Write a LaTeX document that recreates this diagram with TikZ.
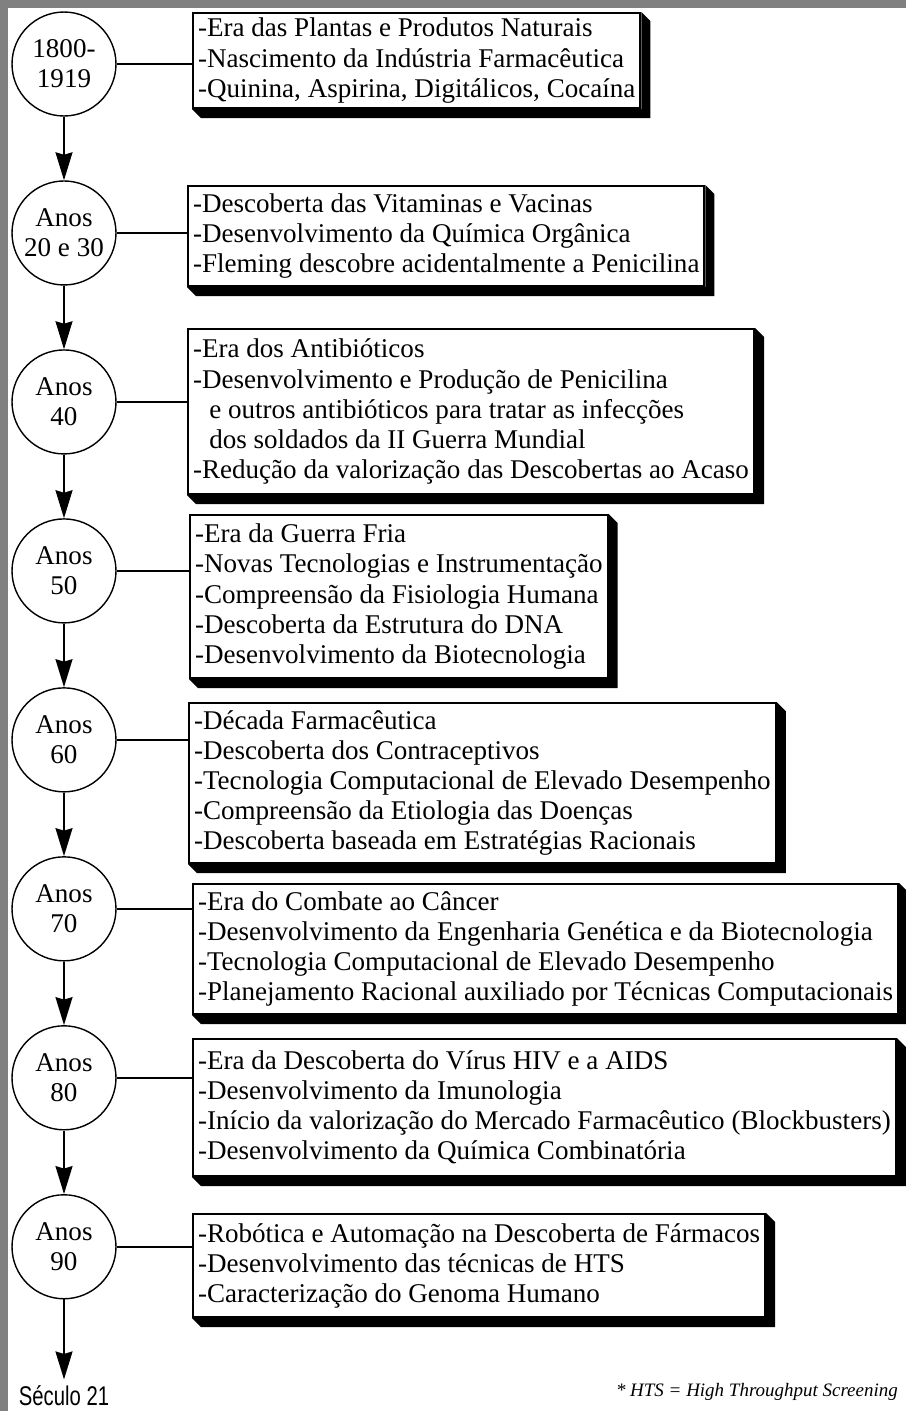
\documentclass[tikz,border=0pt]{standalone}
\usepackage{fontspec}
\setmainfont{Liberation Serif}
\newfontfamily\semserifa{Liberation Sans}
\usetikzlibrary{arrows.meta}
\definecolor{moldura}{RGB}{128,128,128}

\begin{document}
\begin{tikzpicture}[x=0.02cm,y=-0.02cm,>={Stealth[length=0.56cm,width=0.34cm,inset=0.05cm]},node distance=3.38cm,
    decada/.style={circle,draw,line width=0.8pt,minimum size=2.08cm,inner sep=0pt,align=center,font=\fontsize{15.4}{17.1}\selectfont},
    fatos/.style={draw,line width=1.2pt,fill=white,anchor=north west,align=left,inner xsep=0.1cm,inner ysep=0.05cm,font=\fontsize{15.4}{17.1}\selectfont}]
    \useasboundingbox (0,0) rectangle (906,1411);
    \fill[moldura] (0,0) rectangle (906,8);
    \fill[moldura] (0,0) rectangle (8,1411);

    % linha do tempo
    \node[decada] (d1) at (64,64) {1800-\\1919};
    \node[decada] (d2) [below of=d1] {Anos\\20 e 30};
    \node[decada] (d3) [below of=d2] {Anos\\40};
    \node[decada] (d4) [below of=d3] {Anos\\50};
    \node[decada] (d5) [below of=d4] {Anos\\60};
    \node[decada] (d6) [below of=d5] {Anos\\70};
    \node[decada] (d7) [below of=d6] {Anos\\80};
    \node[decada] (d8) [below of=d7] {Anos\\90};
    \node[font=\semserifa\fontsize{15.4}{17}\selectfont] (sec) [below of=d8, node distance=2.98cm] {\scalebox{0.75}[1]{Século 21}};

    % quadros de eventos
    \node[fatos, minimum height=1.9cm] (f1) at (192,12) {-Era das Plantas e Produtos Naturais\\-Nascimento da Indústria Farmacêutica\\-Quinina, Aspirina, Digitálicos, Cocaína};
    \node[fatos, minimum height=2cm] (f2) at (187,185) {-Descoberta das Vitaminas e Vacinas\\-Desenvolvimento da Química Orgânica\\-Fleming descobre acidentalmente a Penicilina};
    \node[fatos, minimum height=3.3cm] (f3) at (187,328) {-Era dos Antibióticos\\-Desenvolvimento e Produção de Penicilina\\\hspace*{0.6em}e outros antibióticos para tratar as infecções\\\hspace*{0.6em}dos soldados da II Guerra Mundial\\-Redução da valorização das Descobertas ao Acaso};
    \node[fatos, minimum height=3.26cm] (f4) at (189,514) {-Era da Guerra Fria\\-Novas Tecnologias e Instrumentação\\-Compreensão da Fisiologia Humana\\-Descoberta da Estrutura do DNA\\-Desenvolvimento da Biotecnologia};
    \node[fatos, minimum height=3.2cm] (f5) at (188,702) {-Década Farmacêutica\\-Descoberta dos Contraceptivos\\-Tecnologia Computacional de Elevado Desempenho\\-Compreensão da Etiologia das Doenças\\-Descoberta baseada em Estratégias Racionais};
    \node[fatos, minimum height=2.6cm] (f6) at (192,883) {-Era do Combate ao Câncer\\-Desenvolvimento da Engenharia Genética e da Biotecnologia\\-Tecnologia Computacional de Elevado Desempenho\\-Planejamento Racional auxiliado por Técnicas Computacionais};
    \node[fatos, minimum height=2.74cm] (f7) at (192,1038) {-Era da Descoberta do Vírus HIV e a AIDS\\-Desenvolvimento da Imunologia\\-Início da valorização do Mercado Farmacêutico (Blockbusters)\\-Desenvolvimento da Química Combinatória};
    \node[fatos, minimum height=2.06cm] (f8) at (192,1213) {-Robótica e Automação na Descoberta de Fármacos\\-Desenvolvimento das técnicas de HTS\\-Caracterização do Genoma Humano};

    % sombra dos quadros
    \foreach \f in {f1,f2,f3,f4,f5,f6,f7,f8}
        \fill (\f.north east) -- ++(9,9) |- ([shift={(9,9)}]\f.south west) -- (\f.south west) -- (\f.south east) -- cycle;

    \node[anchor=east,font=\itshape\fontsize{10.8}{12}\selectfont] (nota) at (904,1392) {* HTS = High Throughput Screening};

    \path[->,line width=1pt]
        (d1) edge (d2)
        (d2) edge (d3)
        (d3) edge (d4)
        (d4) edge (d5)
        (d5) edge (d6)
        (d6) edge (d7)
        (d7) edge (d8)
        (d8) edge (sec)
        ;
    \path[line width=1pt]
        (d1.east) edge (d1.east -| f1.west)
        (d2.east) edge (d2.east -| f2.west)
        (d3.east) edge (d3.east -| f3.west)
        (d4.east) edge (d4.east -| f4.west)
        (d5.east) edge (d5.east -| f5.west)
        (d6.east) edge (d6.east -| f6.west)
        (d7.east) edge (d7.east -| f7.west)
        (d8.east) edge (d8.east -| f8.west)
        ;
\end{tikzpicture}
\end{document}
